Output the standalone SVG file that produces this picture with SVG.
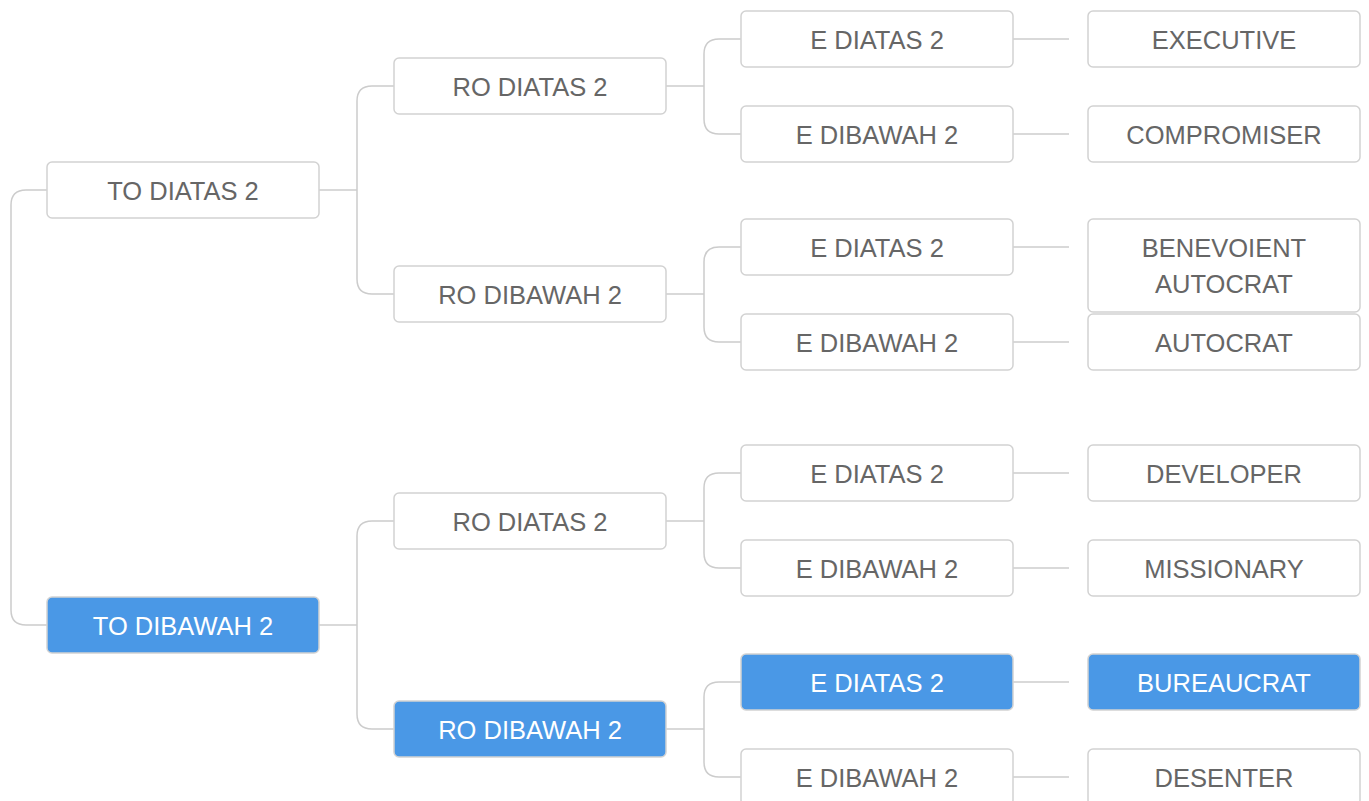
<svg xmlns="http://www.w3.org/2000/svg" width="1369" height="801" viewBox="0 0 1369 801">
<style>
.n rect{fill:#fff;stroke:#d2d2d2;stroke-width:1.5}
.n.sel rect{fill:#4a98e6;stroke:#d2d2d2}
.n text{font-family:"Liberation Sans",Arial,sans-serif;font-size:25.5px;fill:#666;text-anchor:middle}
.n.sel text{fill:#fff}
#connectors path{fill:none;stroke:#cccccc;stroke-width:1.5}
</style>
<rect width="1369" height="801" fill="#fff"/>
<g id="connectors">
<path d="M47 190 H26 Q11 190 11 205 V610 Q11 625 26 625 H47"/>
<path d="M319 190 H357"/>
<path d="M394 86 H372 Q357 86 357 101 V279 Q357 294 372 294 H394"/>
<path d="M319 625 H357"/>
<path d="M394 521 H372 Q357 521 357 536 V714 Q357 729 372 729 H394"/>
<path d="M666 86 H704"/>
<path d="M741 39 H719 Q704 39 704 54 V119 Q704 134 719 134 H741"/>
<path d="M666 294 H704"/>
<path d="M741 247 H719 Q704 247 704 262 V327 Q704 342 719 342 H741"/>
<path d="M666 521 H704"/>
<path d="M741 473 H719 Q704 473 704 488 V553 Q704 568 719 568 H741"/>
<path d="M666 729 H704"/>
<path d="M741 682 H719 Q704 682 704 697 V762 Q704 777 719 777 H741"/>
<path d="M1013 39 H1069"/>
<path d="M1013 134 H1069"/>
<path d="M1013 247 H1069"/>
<path d="M1013 342 H1069"/>
<path d="M1013 473 H1069"/>
<path d="M1013 568 H1069"/>
<path d="M1013 682 H1069"/>
<path d="M1013 777 H1069"/>
</g>
<g id="n-to-diatas" class="n"><rect x="47" y="162" width="272" height="56" rx="5"/><text x="183" y="200">TO DIATAS 2</text></g>
<g id="n-to-dibawah" class="n sel"><rect x="47" y="597" width="272" height="56" rx="5"/><text x="183" y="635">TO DIBAWAH 2</text></g>
<g id="n-ro-diatas-1" class="n"><rect x="394" y="58" width="272" height="56" rx="5"/><text x="530" y="96">RO DIATAS 2</text></g>
<g id="n-ro-dibawah-1" class="n"><rect x="394" y="266" width="272" height="56" rx="5"/><text x="530" y="304">RO DIBAWAH 2</text></g>
<g id="n-ro-diatas-2" class="n"><rect x="394" y="493" width="272" height="56" rx="5"/><text x="530" y="531">RO DIATAS 2</text></g>
<g id="n-ro-dibawah-2" class="n sel"><rect x="394" y="701" width="272" height="56" rx="5"/><text x="530" y="739">RO DIBAWAH 2</text></g>
<g id="n-e1" class="n"><rect x="741" y="11" width="272" height="56" rx="5"/><text x="877" y="49">E DIATAS 2</text></g>
<g id="n-e2" class="n"><rect x="741" y="106" width="272" height="56" rx="5"/><text x="877" y="144">E DIBAWAH 2</text></g>
<g id="n-e3" class="n"><rect x="741" y="219" width="272" height="56" rx="5"/><text x="877" y="257">E DIATAS 2</text></g>
<g id="n-e4" class="n"><rect x="741" y="314" width="272" height="56" rx="5"/><text x="877" y="352">E DIBAWAH 2</text></g>
<g id="n-e5" class="n"><rect x="741" y="445" width="272" height="56" rx="5"/><text x="877" y="483">E DIATAS 2</text></g>
<g id="n-e6" class="n"><rect x="741" y="540" width="272" height="56" rx="5"/><text x="877" y="578">E DIBAWAH 2</text></g>
<g id="n-e7" class="n sel"><rect x="741" y="654" width="272" height="56" rx="5"/><text x="877" y="692">E DIATAS 2</text></g>
<g id="n-e8" class="n"><rect x="741" y="749" width="272" height="56" rx="5"/><text x="877" y="787">E DIBAWAH 2</text></g>
<g id="n-executive" class="n"><rect x="1088" y="11" width="272" height="56" rx="5"/><text x="1224" y="49">EXECUTIVE</text></g>
<g id="n-compromiser" class="n"><rect x="1088" y="106" width="272" height="56" rx="5"/><text x="1224" y="144">COMPROMISER</text></g>
<g id="n-benevoient" class="n"><rect x="1088" y="219" width="272" height="93" rx="5"/><text x="1224" y="257">BENEVOIENT</text><text x="1224" y="293">AUTOCRAT</text></g>
<g id="n-autocrat" class="n"><rect x="1088" y="314" width="272" height="56" rx="5"/><text x="1224" y="352">AUTOCRAT</text></g>
<g id="n-developer" class="n"><rect x="1088" y="445" width="272" height="56" rx="5"/><text x="1224" y="483">DEVELOPER</text></g>
<g id="n-missionary" class="n"><rect x="1088" y="540" width="272" height="56" rx="5"/><text x="1224" y="578">MISSIONARY</text></g>
<g id="n-bureaucrat" class="n sel"><rect x="1088" y="654" width="272" height="56" rx="5"/><text x="1224" y="692">BUREAUCRAT</text></g>
<g id="n-desenter" class="n"><rect x="1088" y="749" width="272" height="56" rx="5"/><text x="1224" y="787">DESENTER</text></g>
</svg>
